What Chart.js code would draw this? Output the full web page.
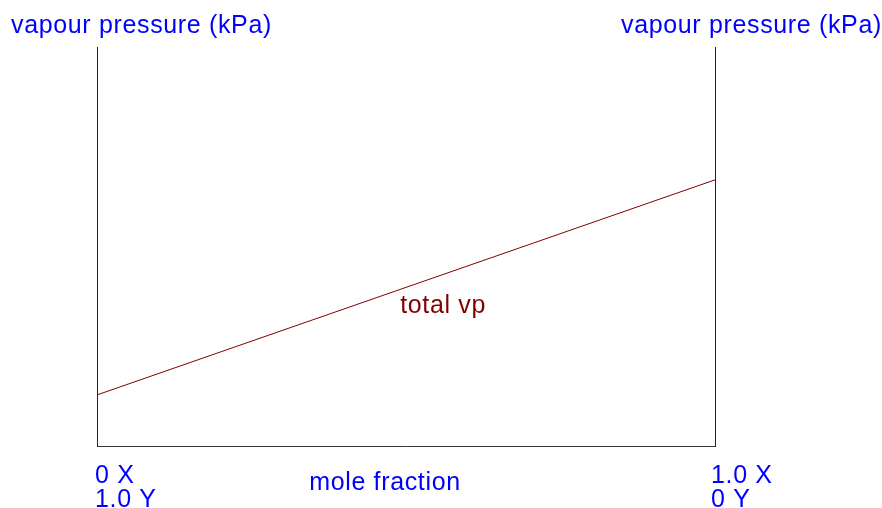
<!DOCTYPE html>
<html>
<head>
<meta charset="utf-8">
<script src="https://cdn.jsdelivr.net/npm/chart.js@4"></script>
<style>
  body { margin: 0; background: #fff; }
  #wrap { width: 882px; height: 508px; }
</style>
</head>
<body>
<div id="wrap"><canvas id="chart"></canvas></div>
<script>
// mole fraction of X, and total vapour pressure (arbitrary units)
const moleFractionX = [0, 1];
const totalVp = [12.8, 66.7];
const lineLabel = "total vp";
const lineLabelAt = { x: 0.56, y: 35 };

const axisTitle = "vapour pressure (kPa)";
const xTitle = "mole fraction";
const leftEnd = ["0 X", "1.0 Y"];
const rightEnd = ["1.0 X", "0 Y"];

const FONT = "25px 'Liberation Sans', Arial, sans-serif";
const BLUE = "#0000ff";
const RED = "#800000";

const textPlugin = {
    id: "chartText",
    afterDraw(chart) {
        const { ctx, chartArea, scales } = chart;
        ctx.save();
        ctx.font = FONT;
        ctx.letterSpacing = "0.65px";
        ctx.textBaseline = "alphabetic";

        ctx.fillStyle = BLUE;
        ctx.textAlign = "left";
        ctx.fillText(axisTitle, chartArea.left - 86, 33);
        ctx.fillText(axisTitle, chartArea.right - 94, 33);

        ctx.fillText(leftEnd[0], chartArea.left - 2, chartArea.bottom + 37);
        ctx.fillText(leftEnd[1], chartArea.left - 2, chartArea.bottom + 61);
        ctx.fillText(rightEnd[0], chartArea.right - 4, chartArea.bottom + 37);
        ctx.fillText(rightEnd[1], chartArea.right - 4, chartArea.bottom + 61);

        ctx.textAlign = "center";
        ctx.fillText(xTitle, 385, chartArea.bottom + 44);

        ctx.fillStyle = RED;
        ctx.textBaseline = "middle";
        ctx.fillText(lineLabel,
            scales.x.getPixelForValue(lineLabelAt.x),
            scales.y.getPixelForValue(lineLabelAt.y));
        ctx.restore();
    }
};

new Chart(document.getElementById("chart"), {
    type: "line",
    data: {
        datasets: [
            {
                label: lineLabel,
                data: moleFractionX.map((x, i) => ({ x, y: totalVp[i] })),
                borderColor: RED,
                borderWidth: 1,
                pointRadius: 0,
                tension: 0,
            },
        ],
    },
    options: {
        responsive: true,
        maintainAspectRatio: false,
        animation: false,
        layout: { padding: { left: 97, right: 167, top: 47, bottom: 62 } },
        plugins: {
            legend: { display: false },
            tooltip: { enabled: false },
        },
        scales: {
            x: {
                type: "linear",
                min: 0,
                max: 1,
                grid: { display: false, drawTicks: false },
                ticks: { display: false },
                border: { display: true, color: "#333", width: 1 },
            },
            y: {
                min: 0,
                max: 100,
                grid: { display: false, drawTicks: false },
                ticks: { display: false },
                border: { display: true, color: "#222", width: 1 },
            },
            y2: {
                position: "right",
                min: 0,
                max: 100,
                grid: { display: false, drawTicks: false },
                ticks: { display: false },
                border: { display: true, color: "#222", width: 1 },
            },
        },
    },
    plugins: [textPlugin],
});
</script>
</body>
</html>
